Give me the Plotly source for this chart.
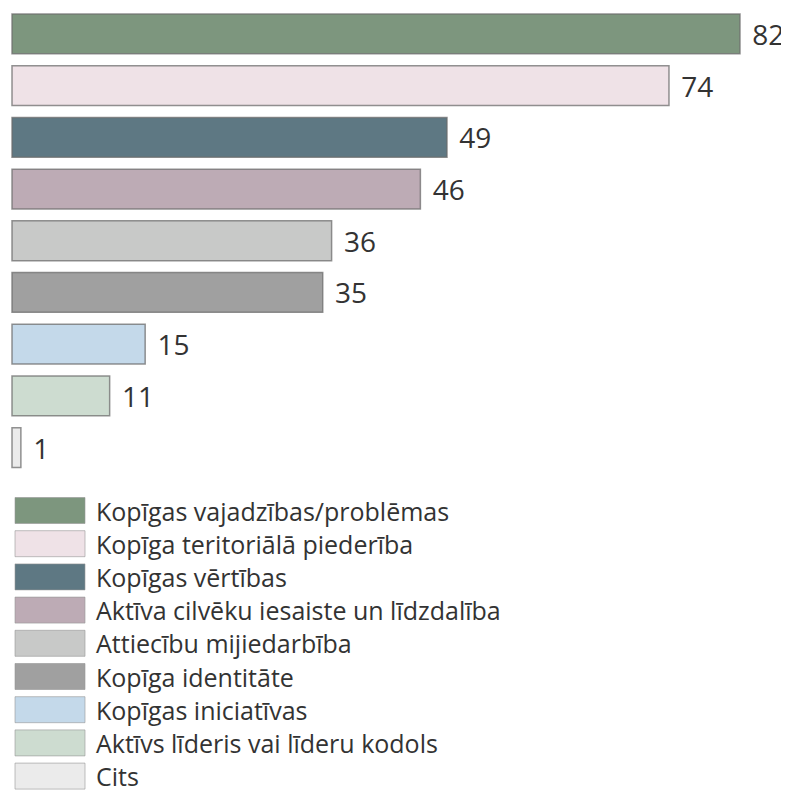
import plotly.graph_objects as go

categories = [
    "Kopīgas vajadzības/problēmas",
    "Kopīga teritoriālā piederība",
    "Kopīgas vērtības",
    "Aktīva cilvēku iesaiste un līdzdalība",
    "Attiecību mijiedarbība",
    "Kopīga identitāte",
    "Kopīgas iniciatīvas",
    "Aktīvs līderis vai līderu kodols",
    "Cits",
]
values = [82, 74, 49, 46, 36, 35, 15, 11, 1]
colors = [
    "#7d967e", "#efe2e7", "#5e7883", "#bdabb5", "#c8c9c8",
    "#a0a0a0", "#c4d9ea", "#cddcd0", "#ebebeb",
]

OFF = 8  # page body margin
W, H = 789 - OFF, 792 - OFF
fig = go.Figure()
fig.add_trace(go.Bar(
    y=categories, x=values, orientation="h",
    marker=dict(color=colors, line=dict(color="rgba(110,110,110,0.75)", width=1.5)),
    text=values, texttemplate="\u2004%{x}", textposition="outside",
    textfont=dict(family="Open Sans", size=28, color="#333333"),
    cliponaxis=False, showlegend=False,
))

# legend drawn as boxes + labels (reference page pixels)
box_x0, box_x1 = 15, 85
row0, pitch, bh = 510.5, 33.2, 26
shapes, annotations = [], []
for i, (name, col) in enumerate(zip(categories, colors)):
    yc = row0 + i * pitch - OFF
    shapes.append(dict(
        type="rect", xref="paper", yref="paper",
        x0=(box_x0 - OFF) / W, x1=(box_x1 - OFF) / W,
        y0=1 - (yc + bh / 2) / H, y1=1 - (yc - bh / 2) / H,
        fillcolor=col, line=dict(color="rgba(150,150,150,0.6)", width=1),
    ))
    annotations.append(dict(
        xref="paper", yref="paper", x=(94 - OFF) / W, y=1 - yc / H,
        xanchor="left", yanchor="middle", text=name, showarrow=False,
        font=dict(family="Open Sans", size=25, color="#333333"),
    ))

px_per_unit = (740 - 12) / 82
x0_px = 12 - OFF
fig.update_layout(
    width=W, height=H,
    margin=dict(l=0, r=0, t=0, b=0),
    paper_bgcolor="white", plot_bgcolor="white",
    bargap=0.23,
    xaxis=dict(range=[-x0_px / px_per_unit, (W - x0_px) / px_per_unit], visible=False, fixedrange=True),
    yaxis=dict(autorange="reversed", visible=False,
               domain=[1 - (473.4 - OFF) / H, 1 - max(8.1 - OFF, 0) / H]),
    shapes=shapes, annotations=annotations,
)
fig.write_html("out.html")
